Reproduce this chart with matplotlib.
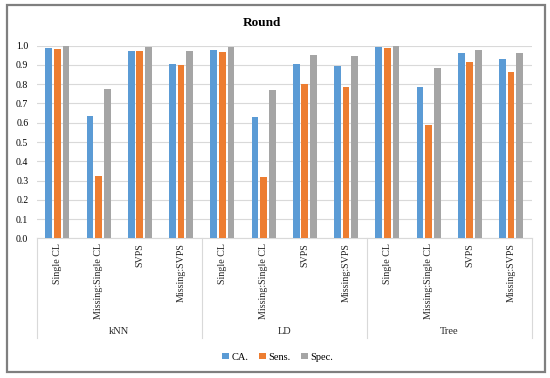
import matplotlib
matplotlib.use("Agg")
import matplotlib.pyplot as plt
import matplotlib.transforms as mtransforms
from matplotlib.patches import Rectangle
import numpy as np

plt.rcParams['font.family'] = ['Liberation Serif', 'DejaVu Serif']

groups = ["kNN", "LD", "Tree"]
categories = ["Single CL", "Missing:Single CL", "SVPS", "Missing:SVPS"]
series_names = ["CA.", "Sens.", "Spec."]
ca = [0.988, 0.633, 0.974, 0.905, 0.978, 0.630, 0.905, 0.894, 0.993, 0.784, 0.960, 0.932]
sens = [0.981, 0.322, 0.974, 0.901, 0.969, 0.320, 0.799, 0.785, 0.986, 0.588, 0.913, 0.862]
spec = [0.997, 0.775, 0.991, 0.972, 0.993, 0.772, 0.950, 0.945, 0.998, 0.884, 0.977, 0.964]
colors = ["#5B9BD5", "#ED7D31", "#A5A5A5"]
yticks = [0.0, 0.1, 0.2, 0.3, 0.4, 0.5, 0.6, 0.7, 0.8, 0.9, 1.0]

W, H = 550, 378
fig = plt.figure(figsize=(W / 100, H / 100), dpi=100)

# outer border
fig.patches.append(Rectangle((7 / W, 1 - 372 / H), (545 - 7) / W, (372 - 5) / H,
                             transform=fig.transFigure, fill=False,
                             edgecolor="#7F7F7F", linewidth=1.6))

x0, x1 = 36.7, 531.7
ytop, ybot = 45.7, 238.3
ax = fig.add_axes([x0 / W, 1 - ybot / H, (x1 - x0) / W, (ybot - ytop) / H])

n = len(ca)
x = np.arange(n)
offs = [-0.21, 0.0, 0.21]
bw = 0.165
for vals, off, c, name in zip([ca, sens, spec], offs, colors, series_names):
    ax.bar(x + off, vals, width=bw, color=c, label=name, zorder=3)

ax.set_xlim(-0.5, n - 0.5)
ax.set_ylim(0, 1.0)
ax.set_yticks(yticks)
ax.set_yticklabels([f"{v:.1f}" for v in yticks], fontsize=7)
ax.tick_params(axis='y', length=0, pad=6)
ax.set_xticks([])
ax.grid(axis='y', color="#D9D9D9", linewidth=0.8, zorder=0)
for s in ["left", "right", "top"]:
    ax.spines[s].set_visible(False)
ax.spines["bottom"].set_color("#D9D9D9")
ax.spines["bottom"].set_linewidth(0.8)

axh = ybot - ytop
trans = mtransforms.blended_transform_factory(ax.transData, ax.transAxes)

def ay(py):
    return (ybot - py) / axh

# category labels
for i in range(n):
    ax.text(i, ay(243), categories[i % len(categories)], rotation=90,
            ha='center', va='top', fontsize=7.2, transform=trans, color="#262626")

# group separators and labels
for g in range(len(groups) + 1):
    xs = g * len(categories) - 0.5
    ax.plot([xs, xs], [0, ay(338)], color="#D9D9D9", linewidth=0.8,
            transform=trans, clip_on=False)
for g, name in enumerate(groups):
    xc = g * len(categories) + (len(categories) - 1) / 2
    ax.text(xc, ay(332), name, ha='center', va='center', fontsize=7.5,
            transform=trans, color="#262626")

fig.text(262 / W, 1 - 23 / H, "Round", ha='center', va='center',
         fontsize=9.5, fontweight='bold')

leg = fig.legend(loc='center', bbox_to_anchor=(278 / W, 1 - 357 / H), ncol=3,
                 frameon=False, fontsize=7.5, handlelength=0.6, handleheight=0.6,
                 handletextpad=0.3, columnspacing=1.0)

fig.savefig("out.png", dpi=100)
